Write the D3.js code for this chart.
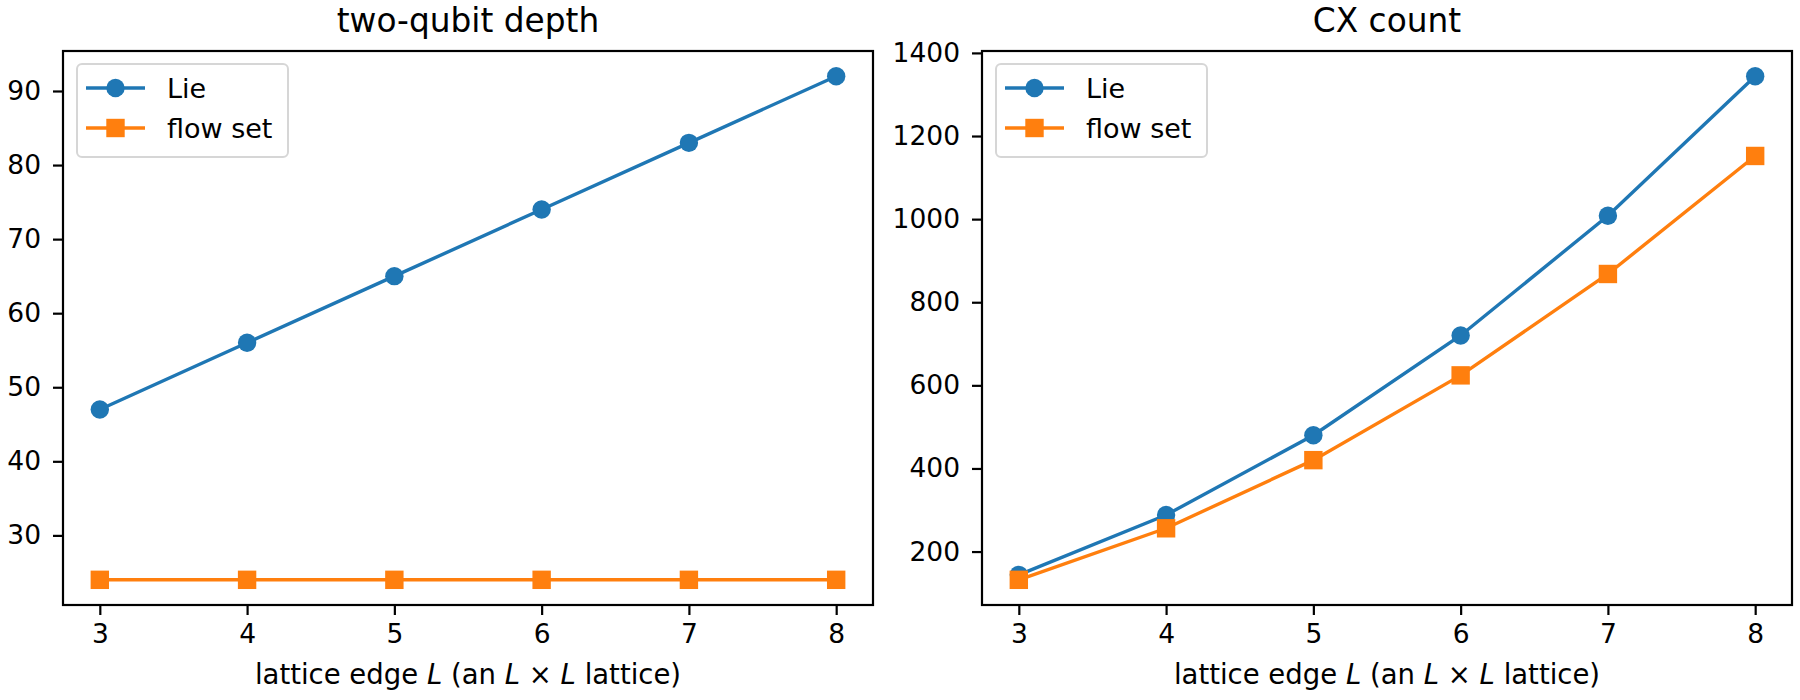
<!DOCTYPE html>
<html>
<head>
<meta charset="utf-8">
<script src="https://cdn.jsdelivr.net/npm/d3@7"></script>
<style>
  body { margin: 0; background: #fff; }
  text { font-family: "DejaVu Sans", sans-serif; fill: #000; }
</style>
</head>
<body>
<div id="chart"></div>
<script>
// Data
var latticeEdge = [3, 4, 5, 6, 7, 8];
var depthLie = [47, 56, 65, 74, 83, 92];
var depthFlow = [24, 24, 24, 24, 24, 24];
var cxLie = [144, 288, 480, 720, 1008, 1344];
var cxFlow = [132, 256, 420, 624, 868, 1152];
var depthTicks = [30, 40, 50, 60, 70, 80, 90];
var cxTicks = [200, 400, 600, 800, 1000, 1200, 1400];
var seriesNames = ["Lie", "flow set"];

var svgWidth = 1800;
var svgHeight = 700;
var blue = "#1f77b4";
var orange = "#ff7f0e";
var fontSize = 26.5;
var labelSize = 27.5;

var svg = d3.select("#chart")
    .append("svg")
    .attr("width", svgWidth)
    .attr("height", svgHeight);

// panel boxes (pixels)
var plotTop = 51, plotBottom = 605;
var panels = [
    { left: 63, right: 873, title: "two-qubit depth", lie: depthLie, flow: depthFlow, ticks: depthTicks },
    { left: 982, right: 1792, title: "CX count", lie: cxLie, flow: cxFlow, ticks: cxTicks }
];

panels.forEach(function (p) {
    var g = svg.append("g");

    // matplotlib-like 5% margins
    var xMin = d3.min(latticeEdge), xMax = d3.max(latticeEdge);
    var xPad = (xMax - xMin) * 0.05;
    var x = d3.scaleLinear()
        .domain([xMin - xPad, xMax + xPad])
        .range([p.left, p.right]);

    var all = p.lie.concat(p.flow);
    var yMin = d3.min(all), yMax = d3.max(all);
    var yPad = (yMax - yMin) * 0.05;
    var y = d3.scaleLinear()
        .domain([yMin - yPad, yMax + yPad])
        .range([plotBottom, plotTop]);

    // axes
    var xAxis = g.append("g")
        .attr("transform", `translate(0, ${plotBottom})`)
        .call(d3.axisBottom(x).tickValues(latticeEdge).tickSize(10).tickPadding(9).tickFormat(d3.format("d")));
    var yAxis = g.append("g")
        .attr("transform", `translate(${p.left}, 0)`)
        .call(d3.axisLeft(y).tickValues(p.ticks).tickSize(10).tickPadding(12).tickFormat(d3.format("d")));

    [xAxis, yAxis].forEach(function (a) {
        a.attr("font-family", null).attr("font-size", null);
        a.select(".domain").remove();
        a.selectAll(".tick line").attr("stroke", "#000").attr("stroke-width", 2.2);
        a.selectAll(".tick text")
            .style("font-family", "DejaVu Sans")
            .style("font-size", fontSize + "px")
            .attr("fill", "#000");
    });

    // series
    var line = d3.line()
        .x(function (d, i) { return x(latticeEdge[i]); })
        .y(function (d) { return y(d); });

    g.append("path")
        .datum(p.lie)
        .attr("d", line)
        .attr("fill", "none")
        .attr("stroke", blue)
        .attr("stroke-width", 3.4);
    g.selectAll(".lieDot")
        .data(p.lie)
        .enter()
        .append("circle")
        .attr("cx", function (d, i) { return x(latticeEdge[i]); })
        .attr("cy", function (d) { return y(d); })
        .attr("r", 9.2)
        .attr("fill", blue);

    g.append("path")
        .datum(p.flow)
        .attr("d", line)
        .attr("fill", "none")
        .attr("stroke", orange)
        .attr("stroke-width", 3.4);
    g.selectAll(".flowSq")
        .data(p.flow)
        .enter()
        .append("rect")
        .attr("x", function (d, i) { return x(latticeEdge[i]) - 9.2; })
        .attr("y", function (d) { return y(d) - 9.2; })
        .attr("width", 18.4)
        .attr("height", 18.4)
        .attr("fill", orange);

    // frame
    g.append("rect")
        .attr("x", p.left)
        .attr("y", plotTop)
        .attr("width", p.right - p.left)
        .attr("height", plotBottom - plotTop)
        .attr("fill", "none")
        .attr("stroke", "#000")
        .attr("stroke-width", 2.2);

    // title
    g.append("text")
        .attr("x", (p.left + p.right) / 2)
        .attr("y", 32)
        .attr("text-anchor", "middle")
        .style("font-size", "32.8px")
        .text(p.title);

    // x label
    var xl = g.append("text")
        .attr("x", (p.left + p.right) / 2)
        .attr("y", 684)
        .attr("text-anchor", "middle")
        .style("font-size", labelSize + "px");
    xl.append("tspan").text("lattice edge ");
    xl.append("tspan").style("font-style", "italic").text("L");
    xl.append("tspan").text(" (an ");
    xl.append("tspan").style("font-style", "italic").text("L");
    xl.append("tspan").text(" \u00d7 ");
    xl.append("tspan").style("font-style", "italic").text("L");
    xl.append("tspan").text(" lattice)");

    // legend
    var lx = p.left + 14, ly = 64;
    var legend = g.append("g").attr("transform", `translate(${lx}, ${ly})`);
    legend.append("rect")
        .attr("width", 211)
        .attr("height", 93)
        .attr("rx", 5)
        .attr("fill", "#fff")
        .attr("fill-opacity", 0.8)
        .attr("stroke", "#d6d6d6")
        .attr("stroke-width", 2);
    var colors = [blue, orange];
    seriesNames.forEach(function (name, i) {
        var cy = 24 + i * 40;
        legend.append("line")
            .attr("x1", 9).attr("x2", 68)
            .attr("y1", cy).attr("y2", cy)
            .attr("stroke", colors[i])
            .attr("stroke-width", 3.4);
        if (i === 0) {
            legend.append("circle")
                .attr("cx", 38.5).attr("cy", cy).attr("r", 9.2)
                .attr("fill", colors[i]);
        } else {
            legend.append("rect")
                .attr("x", 38.5 - 9.2).attr("y", cy - 9.2)
                .attr("width", 18.4).attr("height", 18.4)
                .attr("fill", colors[i]);
        }
        legend.append("text")
            .attr("x", 90)
            .attr("y", cy + 9.5)
            .style("font-size", "27px")
            .text(name);
    });
});
</script>
</body>
</html>
